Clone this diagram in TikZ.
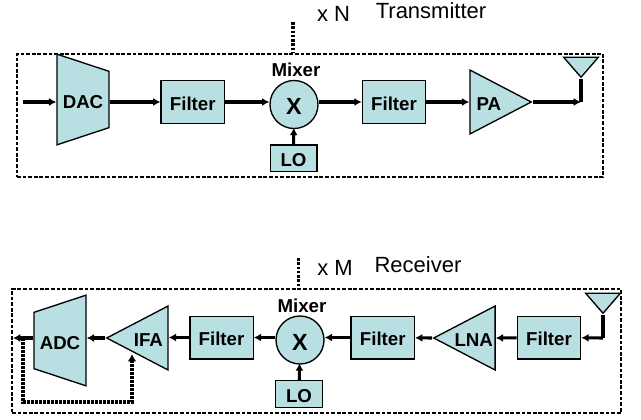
\documentclass[tikz,border=0pt]{standalone}
\usepackage{fontspec}
\setmainfont{Liberation Sans}
\usepackage{xcolor}
\usetikzlibrary{shapes.geometric, arrows.meta, calc}
\definecolor{blockfill}{HTML}{B8DFE2}

\begin{document}
\begin{tikzpicture}[
        x=0.75pt, y=-0.75pt,
        blockfont/.style={font=\fontsize{14}{15}\selectfont\bfseries, text height=12.5pt, text depth=0pt},
        block/.style={rectangle, draw=black, line width=1pt, fill=blockfill, inner sep=0pt, blockfont},
        filterbox/.style={block, minimum width=47.5pt, minimum height=32pt},
        lobox/.style={block, minimum width=35pt, minimum height=20pt},
        mixer/.style={circle, draw=black, line width=1pt, fill=blockfill, inner sep=0pt, minimum size=36pt, font=\fontsize{17.5}{19}\selectfont\bfseries, text height=15pt, text depth=0pt},
        amp/.style={isosceles triangle, isosceles triangle stretches, draw=black, line width=1pt, fill=blockfill, inner sep=0pt, minimum width=48pt, minimum height=46pt, blockfont},
        converter/.style={trapezium, trapezium stretches body, draw=black, line width=1pt, fill=blockfill, inner sep=0pt, blockfont, text height=13.5pt},
        antenna/.style={isosceles triangle, isosceles triangle stretches, shape border rotate=-90, draw=black, line width=1pt, fill=blockfill, inner sep=0pt, minimum width=26pt, minimum height=15pt},
        link/.style={-{Latex[length=5.5pt,width=6pt]}, line width=2.3pt},
        stem/.style={line width=3pt},
        boundary/.style={draw=black, line width=1.2pt, dash pattern=on 2.8pt off 1.4pt},
        dotlink/.style={line width=2.8pt, dash pattern=on 2pt off 1.2pt},
        feedback/.style={line width=2.4pt, dash pattern=on 2pt off 1pt, -{Latex[length=5.5pt,width=6.5pt]}},
        labeltext/.style={font=\fontsize{16.5}{18}\selectfont},
        mixlabel/.style={font=\fontsize{14}{15}\selectfont\bfseries}
    ]
    \useasboundingbox (0,0) rectangle (641,420);

    % Transmitter
    \node[boundary, minimum width=439.5pt, minimum height=92.5pt, inner sep=0pt] (txbox) at (310,115.5) {};
    \coordinate (txin) at (23,102);
    \node[converter, shape border rotate=270, minimum height=39pt, minimum width=68pt, trapezium left angle=67, trapezium right angle=67] (dac) at (83,99.5) {DAC};
    \node[filterbox] (txfilt1) at (192.75,102) {Filter};
    \node[mixer] (txmix) at (294,104.5) {X};
    \node[mixlabel] (txmixlabel) at (296,70) {Mixer};
    \node[lobox] (txlo) at (293.5,158.5) {LO};
    \node[filterbox] (txfilt2) at (394,102) {Filter};
    \node[amp, anchor=apex] (pa) at (533,102) {PA};
    \node[antenna, anchor=apex] (txant) at (581,79) {};
    \coordinate (txfoot) at (581,102);
    \coordinate (txtop) at (293,22);
    \node[labeltext] (txcount) at (333.5,14) {x N};
    \node[labeltext] (txlabel) at (431,11) {Transmitter};

    \draw[link] (txin) -- (dac.west |- txin);
    \draw[link] (dac.east |- txin) -- (txfilt1);
    \draw[link] (txfilt1) -- (txmix.west |- txfilt1);
    \draw[link] (txmix.east |- txfilt2) -- (txfilt2);
    \draw[link] (txfilt2) -- (pa.west |- txfilt2);
    \draw[link] (pa.apex) -- (txfoot);
    \draw[stem] (txant.apex) -- (txfoot);
    \draw[link, shorten >=-1pt] (txlo) -- (txmix);
    \draw[dotlink] (txtop) -- (txtop |- txbox.north);

    % Receiver
    \node[boundary, minimum width=456.75pt, minimum height=93pt, inner sep=0pt] (rxbox) at (316.5,351) {};
    \node[antenna, anchor=apex] (rxant) at (603,315) {};
    \coordinate (rxfoot) at (603,338);
    \node[filterbox] (rxfilt1) at (549,337.5) {Filter};
    \node[amp, shape border rotate=180, anchor=apex] (lna) at (432,338) {LNA};
    \node[filterbox] (rxfilt2) at (382.75,337.5) {Filter};
    \node[mixer] (rxmix) at (300,340) {X};
    \node[mixlabel] (rxmixlabel) at (302,306) {Mixer};
    \node[lobox] (rxlo) at (299,394) {LO};
    \node[filterbox] (rxfilt3) at (221.5,337.5) {Filter};
    \node[amp, shape border rotate=180, anchor=apex] (ifa) at (105,338) {IFA};
    \node[converter, shape border rotate=90, minimum height=39pt, minimum width=68pt, trapezium left angle=67, trapezium right angle=67] (adc) at (60,340.5) {ADC};
    \coordinate (rxout) at (13,338);
    \coordinate (fbstart) at (23,338);
    \coordinate (fbcorner) at (23,402);
    \coordinate (fbend) at (132,354);
    \coordinate (rxtop) at (298.5,258);
    \node[labeltext] (rxcount) at (335,268) {x M};
    \node[labeltext] (rxlabel) at (418,265) {Receiver};

    \draw[stem] (rxant.apex) -- (rxfoot);
    \draw[link] (rxfoot) -- (rxfilt1);
    \draw[link] (rxfilt1) -- (lna.east |- rxfoot);
    \draw[link] (lna.apex) -- (rxfilt2);
    \draw[link] (rxfilt2) -- (rxmix.east |- rxfilt2);
    \draw[link] (rxmix.west |- rxfilt3) -- (rxfilt3);
    \draw[link] (rxfilt3) -- (ifa.east |- rxfilt3);
    \draw[link] (ifa.apex) -- (adc.east |- rxout);
    \draw[link] (adc.west |- rxout) -- (rxout);
    \draw[link, shorten >=-1pt] (rxlo) -- (rxmix);
    \draw[feedback] (fbstart) -- (fbcorner) -| (fbend);
    \draw[dotlink] (rxtop) -- (rxtop |- rxbox.north);

\end{tikzpicture}
\end{document}
